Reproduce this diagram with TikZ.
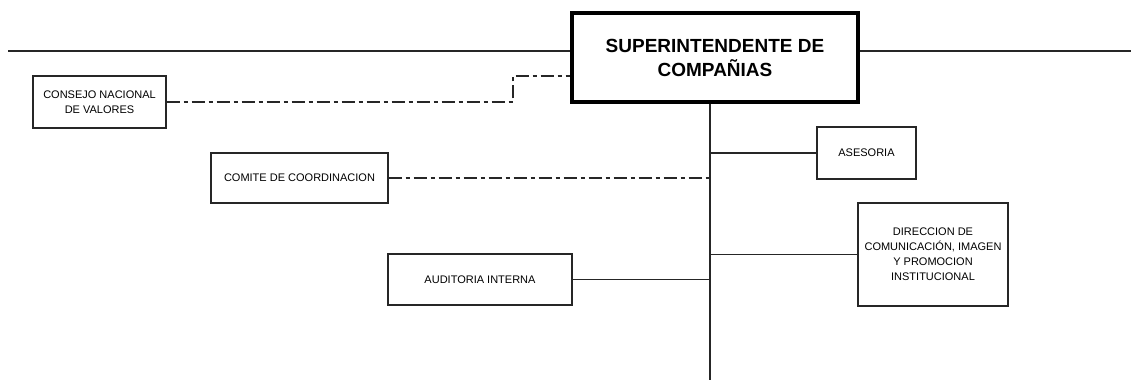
\documentclass[tikz,border=0pt]{standalone}
\usepackage{fontspec}
\setmainfont{Liberation Sans}
\usetikzlibrary{positioning}

\begin{document}
\begin{tikzpicture}[line cap=butt,line join=miter,x=1pt,y=-1pt,
	unit/.style={draw=black!85,line width=1.3pt,rectangle,align=center,inner sep=0pt,
		font=\fontsize{11}{15}\selectfont},
	head/.style={draw=black,line width=3.6pt,rectangle,align=center,inner sep=0pt,fill=white,
		font=\fontsize{19}{24}\selectfont\bfseries},
	link/.style={draw=black!85,line width=1.3pt},
	staff/.style={link,dash pattern=on 13pt off 4pt on 4pt off 4pt}]
		\useasboundingbox (0,0) rectangle (1131,380);
		% boxes
		\node[head,minimum width=286pt,minimum height=89pt] (sup) at (715,57.5) {SUPERINTENDENTE DE\\COMPAÑIAS};
		\node[unit,minimum width=133pt,minimum height=52pt] (cnv) at (99.5,102) {CONSEJO NACIONAL\\DE VALORES};
		\node[unit,minimum width=177pt,minimum height=50pt] (comite) at (299.5,178) {COMITE DE COORDINACION};
		\node[unit,minimum width=184pt,minimum height=51pt] (audit) at (480,279.5) {AUDITORIA INTERNA};
		\node[unit,minimum width=99pt,minimum height=52pt] (ases) at (866.5,153) {ASESORIA};
		\node[unit,minimum width=150pt,minimum height=103pt] (dir) at (933,254.5) {DIRECCION DE\\COMUNICACIÓN, IMAGEN\\Y PROMOCION\\INSTITUCIONAL};
		% free ends
		\coordinate (hl) at (8,51);
		\coordinate (hr) at (1131,51);
		\coordinate (spine) at (710,380);
		\coordinate (jog) at (513,76);
		% lines
		\draw[link] (hl) -- (hl -| sup.west);
		\draw[link] (sup.east |- hr) -- (hr);
		\draw[link] (spine |- sup.south) -- (spine);
		\draw[link] (spine |- ases.west) -- (ases.west);
		\draw[link] (spine |- dir.west) -- (dir.west);
		\draw[link] (audit.east) -- (audit.east -| spine);
		\draw[staff] (comite.east) -- (comite.east -| spine);
		\draw[staff] (cnv.east) -| (jog) -- (jog -| sup.west);
	\end{tikzpicture}
\end{document}
